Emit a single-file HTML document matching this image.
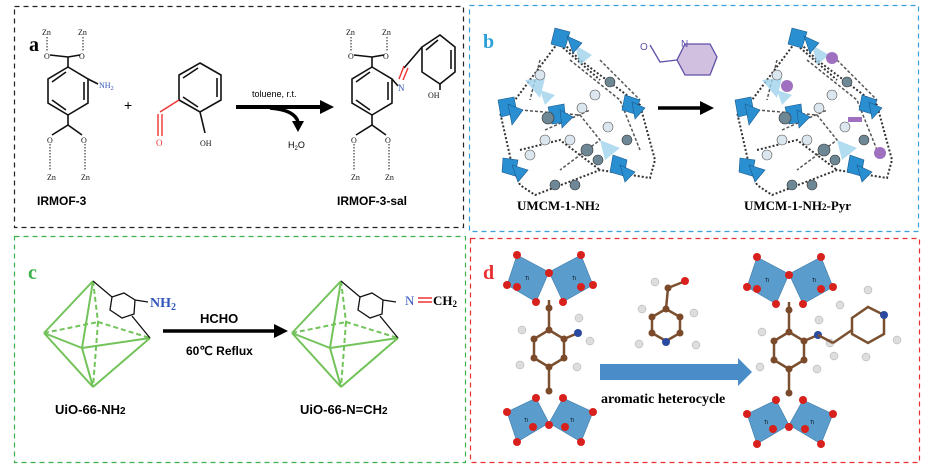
<!DOCTYPE html>
<html><head><meta charset="utf-8"><style>
html,body{margin:0;padding:0;background:#fff}
svg{display:block}
.s{font-family:"Liberation Sans",sans-serif}
.r{font-family:"Liberation Serif",serif}
</style></head><body>
<svg width="928" height="473" viewBox="0 0 928 473" xmlns="http://www.w3.org/2000/svg">
<!-- borders -->
<rect x="14.5" y="6.5" width="449" height="221" fill="none" stroke="#222" stroke-width="1.2" stroke-dasharray="5,4"/>
<rect x="469.5" y="5.5" width="449" height="226" fill="none" stroke="#3aa0dc" stroke-width="1.2" stroke-dasharray="5,4"/>
<rect x="14.5" y="236.5" width="451" height="226" fill="none" stroke="#3cb04a" stroke-width="1.2" stroke-dasharray="5,4"/>
<rect x="470.5" y="238.5" width="449" height="224" fill="none" stroke="#e83030" stroke-width="1.2" stroke-dasharray="5,4"/>

<!-- PANEL A -->
<text x="29" y="51" class="r" font-size="20" font-weight="bold">a</text>
<g stroke="#111" stroke-width="1.6" fill="none">
<polygon points="68,67 88,79 88,103 68,115 48,103 48,79"/>
<line x1="52" y1="82" x2="66" y2="72"/><line x1="84" y1="82" x2="84" y2="100"/><line x1="52" y1="100" x2="66" y2="110"/>
<line x1="68" y1="67" x2="68" y2="57"/><line x1="68" y1="57" x2="50" y2="55"/><line x1="68" y1="57" x2="80" y2="55"/>
<line x1="68" y1="115" x2="68" y2="125"/><line x1="68" y1="125" x2="52" y2="135"/><line x1="68" y1="125" x2="82" y2="135"/>
<line x1="88" y1="79" x2="98" y2="84"/>
<polygon points="200,63 221,75 221,100 200,112 179,100 179,75"/>
<line x1="183" y1="78" x2="198" y2="68"/><line x1="217" y1="78" x2="217" y2="97"/><line x1="183" y1="97" x2="198" y2="107"/>
<line x1="200" y1="112" x2="205" y2="133"/>
<polygon points="372,67 392,79 392,103 372,115 352,103 352,79"/>
<line x1="356" y1="82" x2="370" y2="72"/><line x1="388" y1="82" x2="388" y2="100"/><line x1="356" y1="100" x2="370" y2="110"/>
<line x1="372" y1="67" x2="372" y2="57"/><line x1="372" y1="57" x2="354" y2="55"/><line x1="372" y1="57" x2="384" y2="55"/>
<line x1="372" y1="115" x2="372" y2="125"/><line x1="372" y1="125" x2="356" y2="135"/><line x1="372" y1="125" x2="386" y2="135"/>
<line x1="392" y1="79" x2="398" y2="86"/>
<polygon points="440,35 455,47 455,72 440,84 422,72 422,47"/>
<line x1="426" y1="50" x2="438" y2="40"/><line x1="451" y1="50" x2="451" y2="69"/>
<line x1="422" y1="47" x2="404" y2="68"/><line x1="440" y1="84" x2="440" y2="90"/>
</g>
<g stroke="#111" stroke-width="1" stroke-dasharray="1.5,1.5">
<line x1="47" y1="37" x2="47" y2="51"/><line x1="83" y1="37" x2="83" y2="51"/><line x1="50" y1="144" x2="50" y2="170"/><line x1="85" y1="144" x2="85" y2="170"/>
<line x1="351" y1="37" x2="351" y2="51"/><line x1="387" y1="37" x2="387" y2="51"/><line x1="354" y1="144" x2="354" y2="170"/><line x1="389" y1="144" x2="389" y2="170"/>
</g>
<g stroke="#e33" stroke-width="1.4"><line x1="179" y1="100" x2="160" y2="112"/><line x1="158" y1="114" x2="158" y2="136"/><line x1="162" y1="114" x2="162" y2="136"/>
<line x1="399" y1="79" x2="404" y2="66"/><line x1="403" y1="80" x2="408" y2="68"/></g>
<g class="r" font-size="8" fill="#111">
<text x="42" y="35">Zn</text><text x="78" y="35">Zn</text><text x="44" y="59">O</text><text x="79" y="59">O</text>
<text x="47" y="143">O</text><text x="81" y="143">O</text><text x="47" y="180">Zn</text><text x="81" y="180">Zn</text>
<text x="346" y="35">Zn</text><text x="382" y="35">Zn</text><text x="348" y="59">O</text><text x="383" y="59">O</text>
<text x="351" y="143">O</text><text x="385" y="143">O</text><text x="351" y="180">Zn</text><text x="385" y="180">Zn</text>
<text x="200" y="146">OH</text><text x="428" y="98">OH</text>
</g>
<text x="99" y="88" class="r" font-size="8" fill="#3355bb">NH<tspan font-size="6" dy="2">2</tspan></text>
<text x="156" y="146" class="r" font-size="9" fill="#e33">O</text>
<text x="398" y="91" class="r" font-size="9" fill="#3355bb">N</text>
<text x="124" y="110" class="s" font-size="14">+</text>
<text x="252" y="97" class="s" font-size="9">toluene, r.t.</text>
<line x1="236" y1="107" x2="322" y2="107" stroke="#000" stroke-width="4"/>
<polygon points="320,100 334,107 320,114" fill="#000"/>
<path d="M270,108 Q295,110 298,122" fill="none" stroke="#000" stroke-width="3.5"/>
<polygon points="292,121 304,121 298,132" fill="#000"/>
<text x="288" y="148" class="s" font-size="9">H<tspan font-size="6" dy="2">2</tspan><tspan dy="-2">O</tspan></text>
<text x="37" y="205" class="s" font-size="12" font-weight="bold">IRMOF-3</text>
<text x="337" y="205" class="s" font-size="12" font-weight="bold">IRMOF-3-sal</text>

<!-- PANEL B -->
<text x="483" y="48" class="r" font-size="20" font-weight="bold" fill="#2a9fd8">b</text>
<g id="fw">
<path d="M560,40 L515,100 L500,112 L512,165 L520,185 L535,195 L600,170 L650,178 L655,160 L640,105 L580,60 Z M560,45 L600,80 M520,150 L560,140 L600,170" fill="none" stroke="#333" stroke-width="2" stroke-dasharray="2,2"/>
<path d="M570,60 L620,100 L640,150 M520,110 L580,115 L600,140 L560,170 M545,130 L590,110 M540,60 L530,100 M600,60 L640,100" fill="none" stroke="#555" stroke-width="1.5" stroke-dasharray="3,2"/>
<g fill="#9fd3ec" opacity="0.8"><polygon points="575,45 592,55 580,65"/><polygon points="525,80 545,78 540,98"/><polygon points="600,140 620,148 605,160"/><polygon points="540,90 555,95 545,105"/></g>
<g fill="#2a8fd0" stroke="#1a5a90" stroke-width="0.6">
<polygon points="555,28 570,32 565,48 551,44"/><polygon points="567,36 582,43 573,53"/>
<polygon points="498,100 514,97 517,113 501,117"/><polygon points="508,104 523,110 512,125"/>
<polygon points="548,107 564,104 566,122 552,124"/><polygon points="560,110 573,117 562,128"/>
<polygon points="625,95 640,100 635,114 622,110"/><polygon points="632,102 645,108 635,119"/>
<polygon points="503,158 518,160 515,176 502,172"/><polygon points="512,165 528,170 518,182"/>
<polygon points="613,155 627,160 624,176 610,172"/><polygon points="620,165 635,172 625,182"/>
</g>
<g fill="#6d8795" stroke="#333" stroke-width="0.6">
<circle cx="548" cy="118" r="6"/><circle cx="587" cy="150" r="6"/><circle cx="598" cy="160" r="5"/><circle cx="610" cy="82" r="5"/><circle cx="627" cy="140" r="5"/><circle cx="575" cy="185" r="5"/><circle cx="555" cy="185" r="5"/>
</g>
<g fill="#dbe6ee" stroke="#555" stroke-width="0.6">
<circle cx="540" cy="75" r="5"/><circle cx="570" cy="140" r="5"/><circle cx="608" cy="127" r="5"/><circle cx="530" cy="155" r="5"/><circle cx="595" cy="95" r="5"/><circle cx="582" cy="108" r="5"/><circle cx="545" cy="140" r="5"/>
</g>
</g>
<use href="#fw" transform="translate(237,0)"/>
<g fill="#a070c0"><circle cx="832" cy="58" r="6"/><circle cx="787" cy="86" r="6"/><circle cx="880" cy="153" r="6"/><rect x="848" y="117" width="14" height="5"/></g>
<line x1="658" y1="108" x2="702" y2="108" stroke="#000" stroke-width="3.5"/>
<polygon points="700,101 714,108 700,115" fill="#000"/>
<polygon points="685,44 710,44 717,57 710,75 685,75 677,60" fill="#d2c0e0" stroke="#6050a8" stroke-width="1.3"/>
<path d="M677,60 L660,62 L650,45" fill="none" stroke="#6050a8" stroke-width="1.3"/>
<text x="640" y="50" class="s" font-size="10" fill="#6050a8">O</text>
<text x="681" y="47" class="s" font-size="10" fill="#6050a8">N</text>
<text x="517" y="210" class="r" font-size="13" font-weight="bold">UMCM-1-NH<tspan font-size="9">2</tspan></text>
<text x="744" y="210" class="r" font-size="13" font-weight="bold">UMCM-1-NH<tspan font-size="9">2</tspan>-Pyr</text>

<!-- PANEL C -->
<text x="28" y="279" class="r" font-size="20" font-weight="bold" fill="#3cb04a">c</text>
<g id="oct" fill="none" stroke="#72c35a" stroke-width="2">
<line x1="93" y1="281" x2="44" y2="333"/><line x1="93" y1="281" x2="82" y2="348"/><line x1="44" y1="333" x2="82" y2="348"/>
<line x1="82" y1="348" x2="150" y2="338"/><line x1="82" y1="348" x2="93" y2="387"/><line x1="44" y1="333" x2="93" y2="387"/><line x1="93" y1="387" x2="150" y2="338"/>
<g stroke-dasharray="5,3"><line x1="44" y1="333" x2="98" y2="322"/><line x1="98" y1="322" x2="150" y2="338"/><line x1="98" y1="322" x2="93" y2="387"/><line x1="93" y1="281" x2="98" y2="322"/></g>
<g stroke="#111" stroke-width="1.3"><line x1="93" y1="281" x2="112" y2="297"/><line x1="132" y1="316" x2="150" y2="338"/>
<polygon points="112,297 124,293 135,300 134,314 122,318 110,310"/><line x1="135" y1="300" x2="148" y2="302"/></g>
</g>
<use href="#oct" transform="translate(248,0)"/>
<text x="150" y="307" class="r" font-size="14" font-weight="bold" fill="#3355bb">NH<tspan font-size="10" dy="3">2</tspan></text>
<text x="405" y="305" class="r" font-size="13" fill="#3355bb">N</text>
<g stroke="#e33" stroke-width="1.5"><line x1="418" y1="298" x2="432" y2="298"/><line x1="418" y1="302" x2="432" y2="302"/></g>
<text x="433" y="305" class="r" font-size="13" font-weight="bold">CH<tspan font-size="9" dy="2">2</tspan></text>
<text x="200" y="323" class="s" font-size="13" font-weight="bold">HCHO</text>
<line x1="163" y1="331" x2="276" y2="331" stroke="#000" stroke-width="3.5"/>
<polygon points="274,324 288,331 274,338" fill="#000"/>
<text x="186" y="355" class="s" font-size="12" font-weight="bold">60℃ Reflux</text>
<text x="55" y="414" class="s" font-size="13" font-weight="bold">UiO-66-NH<tspan font-size="10">2</tspan></text>
<text x="300" y="414" class="s" font-size="13" font-weight="bold">UiO-66-N=CH<tspan font-size="10">2</tspan></text>

<!-- PANEL D -->
<text x="483" y="279" class="r" font-size="20" font-weight="bold" fill="#e83030">d</text>
<g id="mol">
<g fill="#5a9ccc" stroke="#3f7aa8" stroke-width="0.6">
<polygon points="517,255 549,272 536,302 507,285"/><polygon points="581,255 549,272 563,302 593,285"/>
<polygon points="507,412 536,398 549,423 517,442"/><polygon points="593,412 563,398 549,423 581,442"/>
</g>
<g stroke="#7a5030" stroke-width="2.5" fill="none">
<line x1="549" y1="300" x2="549" y2="328"/><polygon points="549,330 564,339 564,358 549,367 534,358 534,339"/><line x1="549" y1="367" x2="549" y2="393"/>
<line x1="564" y1="339" x2="578" y2="333"/>
</g>
<g fill="#ddd" stroke="#aaa" stroke-width="0.5"><circle cx="522" cy="330" r="4"/><circle cx="520" cy="365" r="4"/><circle cx="577" cy="367" r="4"/><circle cx="579" cy="318" r="4"/><circle cx="590" cy="341" r="4"/></g>
<g fill="#7a4a2a"><circle cx="549" cy="330" r="3.5"/><circle cx="564" cy="339" r="3.5"/><circle cx="564" cy="358" r="3.5"/><circle cx="549" cy="367" r="3.5"/><circle cx="534" cy="358" r="3.5"/><circle cx="534" cy="339" r="3.5"/><circle cx="549" cy="308" r="3.5"/><circle cx="549" cy="391" r="3.5"/></g>
<circle cx="578" cy="333" r="4" fill="#2a4aa0"/>
<g fill="#d8201c"><circle cx="517" cy="255" r="4"/><circle cx="581" cy="255" r="4"/><circle cx="549" cy="273" r="4"/><circle cx="507" cy="285" r="4"/><circle cx="593" cy="285" r="4"/><circle cx="517" cy="287" r="4"/><circle cx="581" cy="287" r="4"/><circle cx="536" cy="302" r="4"/><circle cx="563" cy="302" r="4"/>
<circle cx="536" cy="398" r="4"/><circle cx="563" cy="398" r="4"/><circle cx="507" cy="412" r="4"/><circle cx="593" cy="412" r="4"/><circle cx="533" cy="427" r="4"/><circle cx="565" cy="427" r="4"/><circle cx="549" cy="425" r="4"/><circle cx="517" cy="442" r="4"/><circle cx="581" cy="442" r="4"/></g>
<g font-family="Liberation Sans,sans-serif" font-size="5"><text x="525" y="280">Ti</text><text x="572" y="280">Ti</text><text x="524" y="422">Ti</text><text x="570" y="422">Ti</text></g>
</g>
<use href="#mol" transform="translate(240,2)"/>
<g stroke="#7a5030" stroke-width="2.5" fill="none"><line x1="818" y1="335" x2="833" y2="343"/><line x1="833" y1="343" x2="852" y2="330"/><polygon points="852,318 868,307 884,315 884,334 868,343 852,334"/>
<polygon points="666,309 680,317 680,333 666,341 652,333 652,317"/><line x1="666" y1="309" x2="668" y2="288"/><line x1="668" y1="288" x2="683" y2="282"/></g>
<g fill="#7a4a2a"><circle cx="666" cy="309" r="3.5"/><circle cx="680" cy="317" r="3.5"/><circle cx="680" cy="333" r="3.5"/><circle cx="652" cy="333" r="3.5"/><circle cx="652" cy="317" r="3.5"/><circle cx="668" cy="288" r="3.5"/></g>
<g fill="#ddd" stroke="#aaa" stroke-width="0.5"><circle cx="834" cy="356" r="4"/><circle cx="868" cy="290" r="4"/><circle cx="840" cy="305" r="4"/><circle cx="866" cy="357" r="4"/><circle cx="897" cy="340" r="4"/>
<circle cx="655" cy="282" r="4"/><circle cx="642" cy="309" r="4"/><circle cx="694" cy="313" r="4"/><circle cx="639" cy="344" r="4"/><circle cx="696" cy="345" r="4"/></g>
<circle cx="884" cy="315" r="4" fill="#2a4aa0"/><circle cx="666" cy="342" r="4" fill="#2a4aa0"/><circle cx="685" cy="281" r="4" fill="#d8201c"/>
<rect x="600" y="364" width="140" height="16" fill="#4a8cc8"/>
<polygon points="738,358 752,372 738,386" fill="#4a8cc8"/>
<text x="601" y="403" class="r" font-size="14" font-weight="bold">aromatic heterocycle</text>
</svg>
</body></html>
